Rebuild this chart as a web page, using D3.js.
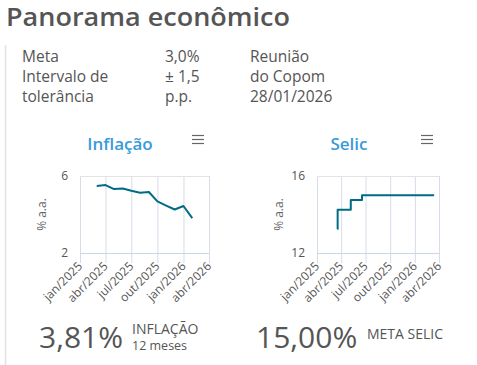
<!DOCTYPE html>
<html><head><meta charset="utf-8">
<script src="https://cdn.jsdelivr.net/npm/d3@7"></script>
<style>
html,body{margin:0;padding:0;background:#fff;}
svg{display:block;font-family:"Open Sans","Noto Sans",sans-serif;}
</style></head>
<body>
<svg id="c" width="477" height="365"></svg>
<script>
// ---- data ----
const infDates = ["2025-03-01","2025-04-01","2025-05-01","2025-06-01","2025-07-01","2025-08-01","2025-09-01","2025-10-01","2025-11-01","2025-12-01","2026-01-01","2026-02-01"];
const infValues = [5.48,5.53,5.32,5.35,5.23,5.13,5.17,4.68,4.46,4.26,4.44,3.81];
const selicDates = ["2025-03-18","2025-03-19","2025-05-07","2025-06-18","2026-03-14"];
const selicValues = [13.25,14.25,14.75,15.00,15.00];
const tickDates = ["2025-01-01","2025-04-01","2025-07-01","2025-10-01","2026-01-01","2026-04-01"];
const tickLabels = ["jan/2025","abr/2025","jul/2025","out/2025","jan/2026","abr/2026"];
const infYTicks = [2,6];
const selicYTicks = [12,16];
const infoRows = [["Meta","3,0%","Reunião"],["Intervalo de","± 1,5","do Copom"],["tolerância","p.p.","28/01/2026"]];

const svg = d3.select("#c");
const parse = d3.utcParse("%Y-%m-%d");
const textCol = "#555";

svg.append("line").attr("x1",5.5).attr("x2",5.5).attr("y1",45).attr("y2",365)
  .attr("stroke","#e2e2e2").attr("stroke-width",1.5);

svg.append("text").attr("x",6).attr("y",26).attr("font-size",24.5).attr("font-weight",600)
  .attr("fill",textCol).attr("textLength",284).attr("lengthAdjust","spacingAndGlyphs")
  .text("Panorama econômico");

const colX = [22,165,250];
infoRows.forEach((r,i)=>{
  r.forEach((t,j)=>{
    svg.append("text").attr("x",colX[j]).attr("y",62+i*20).attr("font-size",15.5)
      .attr("fill",textCol).text(t);
  });
});

function chart(cfg){
  const g = svg.append("g");
  const x = d3.scaleUtc().domain([parse(tickDates[0]),parse(tickDates[tickDates.length-1])]).range([cfg.x0,cfg.x1]);
  const y = d3.scaleLinear().domain(cfg.yDomain).range([cfg.y1,cfg.y0]);
  const ticks = tickDates.map(parse);
  // gridlines
  g.selectAll(".vg").data(ticks).join("line")
    .attr("x1",d=>x(d)+0.5).attr("x2",d=>x(d)+0.5).attr("y1",cfg.y0).attr("y2",cfg.y1+10)
    .attr("stroke","#d8dce8").attr("stroke-width",1);
  g.selectAll(".hg").data(cfg.yTicks).join("line")
    .attr("x1",cfg.x0).attr("x2",cfg.x1).attr("y1",d=>y(d)+0.5).attr("y2",d=>y(d)+0.5)
    .attr("stroke",(d,i)=>i===0?"#ccd6eb":"#e3e3e3").attr("stroke-width",1);
  // y labels
  g.selectAll(".yl").data(cfg.yTicks).join("text")
    .attr("x",cfg.x0-12).attr("y",d=>y(d)+4).attr("text-anchor","end")
    .attr("font-size",12).attr("fill","#555").text(d=>d);
  // x labels
  g.selectAll(".xl").data(ticks).join("text")
    .attr("transform",d=>`translate(${x(d)+3},${cfg.y1+14}) rotate(-45)`)
    .attr("text-anchor","end").attr("font-size",12).attr("fill","#555")
    .text((d,i)=>tickLabels[i]);
  // axis title
  g.append("text").attr("transform",`translate(${cfg.x0-34},${(cfg.y0+cfg.y1)/2}) rotate(-90)`)
    .attr("text-anchor","middle").attr("font-size",12).attr("fill","#666").text("% a.a.");
  // title
  g.append("text").attr("x",cfg.titleX).attr("y",150).attr("text-anchor","middle")
    .attr("font-size",17).attr("font-weight",600).attr("fill","#3a9ad9").text(cfg.title);
  // menu icon
  [0,4,8].forEach(o=>g.append("line").attr("x1",cfg.menuX-6).attr("x2",cfg.menuX+6)
    .attr("y1",135.5+o).attr("y2",135.5+o).attr("stroke","#666").attr("stroke-width",1.2));
  // line
  const line = d3.line().x(d=>x(d[0])).y(d=>y(d[1])).curve(cfg.curve);
  g.append("path").datum(cfg.dates.map((d,i)=>[parse(d),cfg.values[i]]))
    .attr("d",line).attr("fill","none").attr("stroke","#006c84").attr("stroke-width",2)
    .attr("stroke-linejoin","round");
}

chart({x0:80,x1:209,y0:176,y1:253,yDomain:[2,6],yTicks:infYTicks,dates:infDates,values:infValues,
  curve:d3.curveLinear,title:"Inflação",titleX:120,menuX:198});
chart({x0:317,x1:439,y0:176,y1:253,yDomain:[12,16],yTicks:selicYTicks,dates:selicDates,values:selicValues,
  curve:d3.curveStepAfter,title:"Selic",titleX:349,menuX:427});

// bottom stats
svg.append("text").attr("x",39).attr("y",348).attr("font-size",30).attr("fill",textCol).text("3,81%");
svg.append("text").attr("x",132).attr("y",334).attr("font-size",14).attr("fill",textCol).text("INFLAÇÃO");
svg.append("text").attr("x",132).attr("y",350).attr("font-size",12.5).attr("fill",textCol).text("12 meses");
svg.append("text").attr("x",256).attr("y",348).attr("font-size",30).attr("fill",textCol).text("15,00%");
svg.append("text").attr("x",367).attr("y",339).attr("font-size",14).attr("fill",textCol).text("META SELIC");
</script>
</body></html>
